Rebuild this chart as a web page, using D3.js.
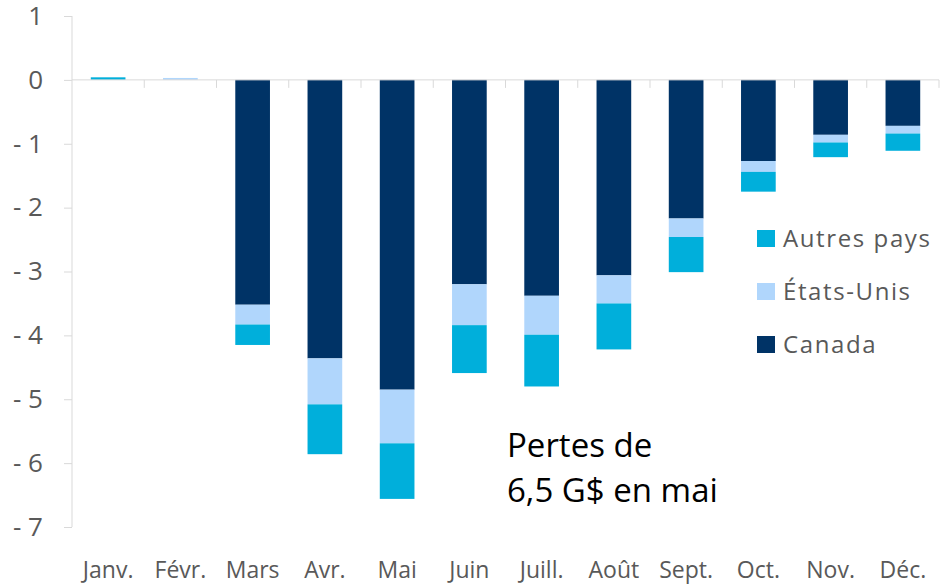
<!DOCTYPE html>
<meta charset="utf-8">
<style>
body { margin: 0; background: white; }
svg { display: block; }
.axis line, .axis path { stroke: #d9d9d9; }
.tick text { fill: #595959; }
.legend text { fill: #595959; }
</style>
<body>
<svg width="942" height="585"></svg>
</body>
<script src="https://d3js.org/d3.v7.min.js"></script>
<script>

// months (x categories)
var months = ["Janv.", "Févr.", "Mars", "Avr.", "Mai", "Juin", "Juill.", "Août", "Sept.", "Oct.", "Nov.", "Déc."];

// series values, G$
var canada = [0, 0, -3.52, -4.36, -4.85, -3.20, -3.38, -3.06, -2.17, -1.27, -0.86, -0.72];
var etatsUnis = [0, 0.03, -0.31, -0.72, -0.84, -0.64, -0.61, -0.44, -0.29, -0.17, -0.12, -0.12];
var autresPays = [0.04, 0, -0.32, -0.78, -0.87, -0.75, -0.81, -0.72, -0.55, -0.31, -0.23, -0.27];

var yTicks = [1, 0, -1, -2, -3, -4, -5, -6, -7];
var noteLines = ["Pertes de", "6,5 G$ en mai"];

var series = [
  {key: "canada", label: "Canada", color: "#003366"},
  {key: "etatsUnis", label: "États-Unis", color: "#b0d6fc"},
  {key: "autresPays", label: "Autres pays", color: "#00afdb"}
];

var rows = months.map(function(m, i) {
  return {month: m, canada: canada[i], etatsUnis: etatsUnis[i], autresPays: autresPays[i]};
});

var svg = d3.select("svg");
var font = "'Open Sans', sans-serif";

var x = d3.scaleBand().domain(months).range([72, 939]).paddingInner(0.52).paddingOuter(0.26);
var y = d3.scaleLinear().domain([-7, 1]).range([527, 16]);

var stacked = d3.stack()
  .keys(series.map(function(s) { return s.key; }))
  .offset(d3.stackOffsetDiverging)(rows);

// bars
svg.append("g")
  .selectAll("g")
  .data(stacked)
  .enter().append("g")
    .attr("fill", function(d, i) { return series[i].color; })
  .selectAll("rect")
  .data(function(d) { return d; })
  .enter().append("rect")
    .attr("x", function(d) { return x(d.data.month); })
    .attr("width", x.bandwidth())
    .attr("y", function(d) { return y(Math.max(d[0], d[1])); })
    .attr("height", function(d) { return Math.abs(y(d[0]) - y(d[1])); });

// y axis
var yAxis = svg.append("g")
  .attr("class", "axis")
  .attr("transform", "translate(72,0)")
  .call(d3.axisLeft(y).tickValues(yTicks).tickSize(8).tickPadding(21)
    .tickFormat(function(d) { return d < 0 ? "- " + Math.abs(d) : d; }));
yAxis.select(".domain").attr("d", "M0," + y(1) + "V" + y(-7));
yAxis.selectAll("text").style("font-family", font).style("font-size", "26px");

// x axis at zero
var band = x.step();
var xAxis = svg.append("g")
  .attr("class", "axis")
  .attr("transform", "translate(0," + y(0) + ")");
xAxis.append("line").attr("x1", 72).attr("x2", 939);
xAxis.selectAll(".tk")
  .data(d3.range(1, months.length + 1))
  .enter().append("line")
    .attr("x1", function(i) { return 72 + i * band; })
    .attr("x2", function(i) { return 72 + i * band; })
    .attr("y1", 0).attr("y2", 8);

svg.append("g")
  .selectAll("text")
  .data(months)
  .enter().append("text")
    .attr("x", function(d) { return x(d) + x.bandwidth() / 2; })
    .attr("y", 578)
    .attr("text-anchor", "middle")
    .attr("fill", "#595959")
    .style("font-family", font)
    .style("font-size", "23px")
    .text(function(d) { return d; });

// legend
var legendItems = series.slice().reverse();
var legend = svg.append("g").attr("class", "legend");
legendItems.forEach(function(s, i) {
  var ly = 230 + i * 53;
  legend.append("rect").attr("x", 757).attr("y", ly).attr("width", 18).attr("height", 17).attr("fill", s.color);
  legend.append("text").attr("x", 783).attr("y", ly + 17)
    .style("font-family", font).style("font-size", "24px")
    .style("letter-spacing", "1.6px")
    .text(s.label);
});

// annotation
svg.append("g")
  .selectAll("text")
  .data(noteLines)
  .enter().append("text")
    .attr("x", 507)
    .attr("y", function(d, i) { return 457 + i * 45; })
    .attr("fill", "#000")
    .style("font-family", font)
    .style("font-size", "33px")
    .text(function(d) { return d; });

</script>
